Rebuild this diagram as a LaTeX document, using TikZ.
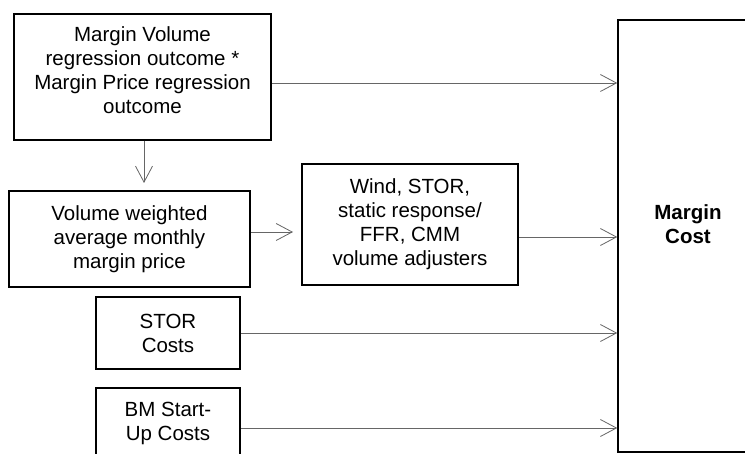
\documentclass[tikz,border=0pt]{standalone}
\usepackage{fontspec}
\setmainfont{Liberation Sans}
\usetikzlibrary{arrows.meta}
\begin{document}
\begin{tikzpicture}[x=1pt,y=-1pt,
  box/.style={draw=black, line width=1.5pt, rectangle, align=center, inner sep=0pt,
    font=\fontsize{20.5}{24}\selectfont},
  conn/.style={draw=black!60, line width=0.8pt,
    -{Straight Barb[length=16pt,width=17pt,line width=0.8pt]}}
]
\useasboundingbox (0,0) rectangle (745,454);
\fill[white] (0,0) rectangle (745,454);
\node[box, minimum width=257pt, minimum height=126pt] (b1) at (142.5,77)
  {Margin Volume\\regression outcome *\\Margin Price regression\\outcome\rule[-13pt]{0pt}{13pt}};
\node[box, minimum width=241pt, minimum height=96pt] (b2) at (129.5,239)
  {Volume weighted\\average monthly\\margin price};
\node[box, minimum width=216pt, minimum height=121pt] (b3) at (410,224.5)
  {Wind, STOR,\\static response/\\FFR, CMM\\volume adjusters};
\node[box, minimum width=144pt, minimum height=72pt] (stor) at (168,333)
  {STOR\\Costs};
\node[box, minimum width=144pt, minimum height=70pt] (bm) at (168,423)
  {BM Start-\\Up Costs};
\node[box, font=\fontsize{20.5}{24}\selectfont\bfseries, minimum width=140pt, minimum height=432pt] (mc) at (688,236)
  {Margin\\Cost\rule[-24pt]{0pt}{24pt}};
\coordinate (y1) at (0,83);
\coordinate (t2) at (144,183);
\coordinate (y3) at (0,232);
\coordinate (t3) at (293,232);
\coordinate (y4) at (0,237);
\coordinate (y6) at (0,428);
\draw[conn] (b1.east |- y1) -- (mc.west |- y1);
\draw[conn] (b1.south -| t2) -- (t2);
\draw[conn] (b2.east |- y3) -- (t3);
\draw[conn] (b3.east |- y4) -- (mc.west |- y4);
\draw[conn] (stor.east) -- (stor.east -| mc.west);
\draw[conn] (bm.east |- y6) -- (mc.west |- y6);
\end{tikzpicture}
\end{document}
